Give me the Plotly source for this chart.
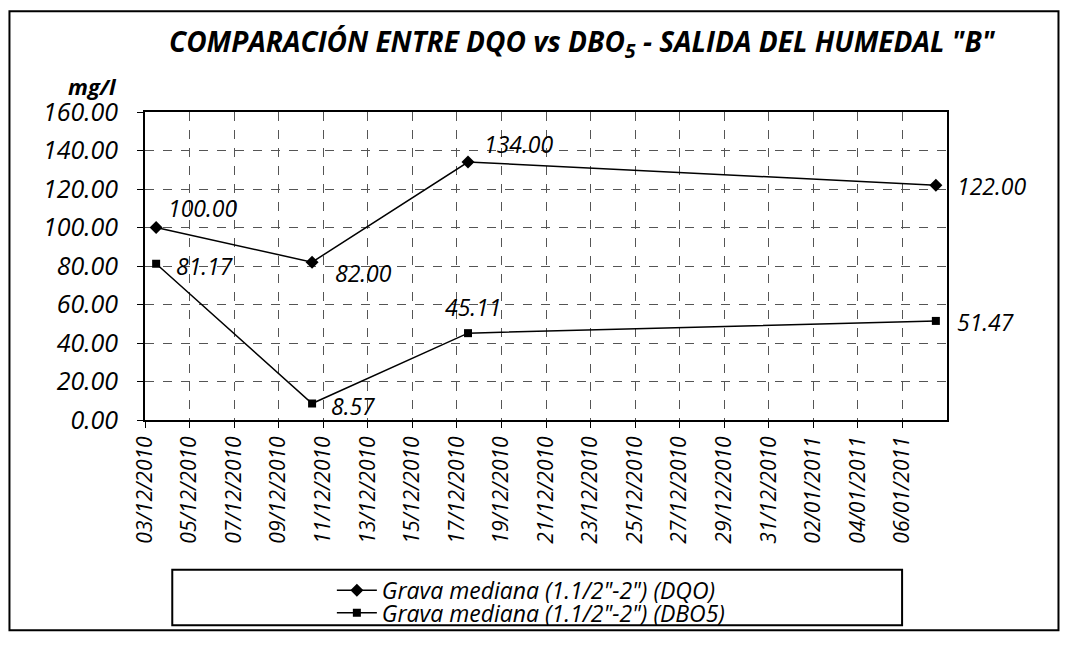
import pandas as pd
import plotly.graph_objects as go

# fechas de muestreo y valores (mg/l)
fechas = ["2010-12-03", "2010-12-10", "2010-12-17", "2011-01-07"]
dqo = [100.00, 82.00, 134.00, 122.00]
dbo5 = [81.17, 8.57, 45.11, 51.47]

serie_dqo = "Grava mediana (1.1/2\"-2\") (DQO)"
serie_dbo = "Grava mediana (1.1/2\"-2\") (DBO5)"

# eje de fechas: cada 2 días, del 03/12/2010 al 06/01/2011
inicio_eje, fin_eje = "2010-12-03", "2011-01-08"
ticks_x = pd.date_range("2010-12-03", "2011-01-06", freq="2D")

FONT = "Open Sans"

# Excel dibuja los puntos en el centro del día
x = pd.to_datetime(fechas) + pd.Timedelta(hours=12)

fig = go.Figure()
fig.add_trace(go.Scatter(
    x=x, y=dqo, name=serie_dqo, mode="lines+markers", legend="legend",
    line=dict(color="black", width=1.5),
    marker=dict(symbol="diamond", size=10, color="black"),
))
fig.add_trace(go.Scatter(
    x=x, y=dbo5, name=serie_dbo, mode="lines+markers", legend="legend2",
    line=dict(color="black", width=1.5),
    marker=dict(symbol="square", size=8, color="black"),
))

# etiquetas de datos (desplazamientos en px, como en el original)
off_dqo = [(10, 20, "left"), (21, -11, "left"), (14, 18, "left"), (19, -1, "left")]
off_dbo = [(18, -2, "left"), (17, -2, "left"), (5, 26, "center"), (19, -1, "left")]
for serie, offs in ((dqo, off_dqo), (dbo5, off_dbo)):
    for xi, yi, (dx, dy, anc) in zip(x, serie, offs):
        fig.add_annotation(
            x=xi, y=yi, text=f"{yi:.2f}", showarrow=False,
            xanchor=anc, yanchor="middle", xshift=dx, yshift=dy,
            font=dict(family=FONT, size=23, color="black", style="italic"),
        )

fig.add_annotation(
    xref="paper", yref="paper", x=0.546, y=1.223, showarrow=False,
    text="<b><i>COMPARACIÓN ENTRE DQO vs DBO<sub>5</sub> - SALIDA DEL HUMEDAL \"B\"</i></b>",
    font=dict(family=FONT, size=28, color="black"),
    xanchor="center", yanchor="middle",
)
fig.add_annotation(
    xref="paper", yref="paper", x=-0.066, y=1.085, showarrow=False,
    text="<b><i>mg/l</i></b>", font=dict(family=FONT, size=22, color="black"),
    xanchor="center", yanchor="middle",
)

# marco exterior y caja de la leyenda
fig.add_shape(type="rect", xref="paper", yref="paper",
              x0=-0.169, x1=1.139, y0=-0.683, y1=1.327,
              line=dict(color="black", width=2))
fig.add_shape(type="rect", xref="paper", yref="paper",
              x0=0.034, x1=0.944, y0=-0.666, y1=-0.486,
              line=dict(color="black", width=2))

fig.update_xaxes(
    type="date", range=[inicio_eje, fin_eje],
    tickvals=ticks_x, tickformat="%d/%m/%Y",
    tickangle=-90, ticks="outside", ticklen=6, tickcolor="black",
    tickfont=dict(family=FONT, size=21, color="black", style="italic"),
    showline=True, linecolor="black", linewidth=2, mirror=True,
    showgrid=True, gridcolor="#555555", gridwidth=1, griddash="dash",
    zeroline=False,
)
fig.update_yaxes(
    range=[0, 160], dtick=20, tickformat=".2f",
    ticks="outside", ticklen=6, tickcolor="black", ticklabelstandoff=14,
    tickfont=dict(family=FONT, size=25, color="black", style="italic"),
    showline=True, linecolor="black", linewidth=2, mirror=True,
    showgrid=True, gridcolor="#555555", gridwidth=1, griddash="dash",
    zeroline=False,
)

leg = dict(
    xanchor="left", yanchor="top", bgcolor="rgba(0,0,0,0)", borderwidth=0,
    font=dict(family=FONT, size=23, color="black", style="italic"),
    itemwidth=40,
)
# la página añade 8 px de margen: figura algo menor que la ventana
fig.update_layout(
    width=1053, height=638,
    margin=dict(l=137, r=114, t=104, b=217),
    plot_bgcolor="white", paper_bgcolor="white",
    showlegend=True,
    legend=dict(leg, x=0.233, y=-0.483),
    legend2=dict(leg, x=0.233, y=-0.556),
)

fig.write_html("out.html")
